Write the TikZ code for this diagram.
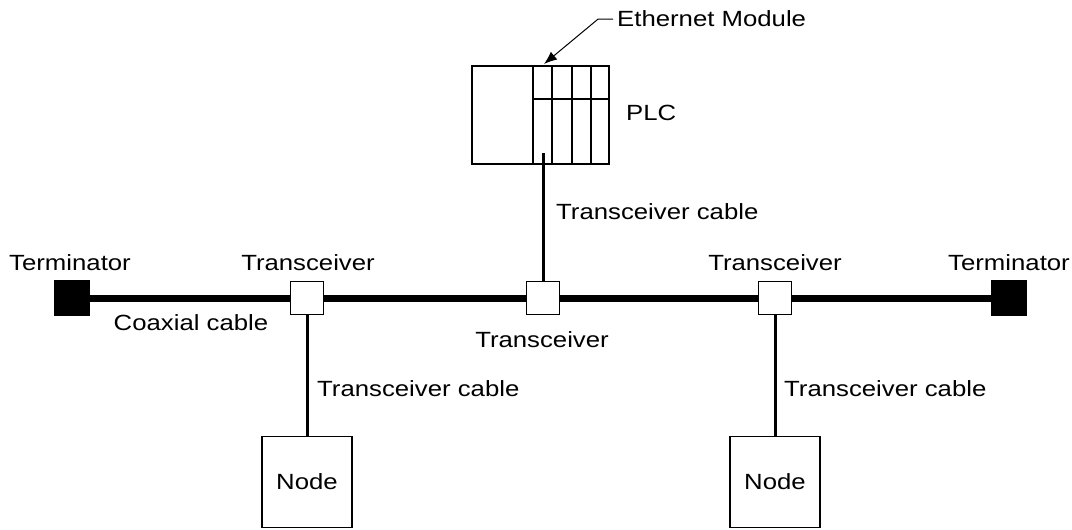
\documentclass[tikz,border=0pt]{standalone}
\usepackage{fontspec}
\setmainfont{Liberation Sans}[FakeStretch=1.17]
\usetikzlibrary{arrows.meta}

\begin{document}
\begin{tikzpicture}[x=1pt,y=-1pt,
  font=\fontsize{22}{26}\selectfont,
  lbl/.style={inner sep=0pt},
  term/.style={draw,fill=black,minimum width=35pt,minimum height=35pt,inner sep=0pt},
  trx/.style={draw,fill=white,line width=1.5pt,minimum width=33pt,minimum height=33pt,inner sep=0pt},
  box/.style={draw,line width=1.5pt,inner sep=0pt},
  coax/.style={line width=7pt},
  cable/.style={line width=3pt}]
            \useasboundingbox (0,0) rectangle (1072,530);

            % bus
            \node[term] (termL) at (72,298) {};
            \node[term] (termR) at (1009,298) {};
            \node[trx] (trxL) at (307,298) {};
            \node[trx] (trxM) at (543,298) {};
            \node[trx] (trxR) at (775,298) {};
            \draw[coax] (termL.east) -- (trxL.west);
            \draw[coax] (trxL.east) -- (trxM.west);
            \draw[coax] (trxM.east) -- (trxR.west);
            \draw[coax] (trxR.east) -- (termR.west);

            % PLC with ethernet module
            \node[box, minimum width=137pt, minimum height=98pt] (plc) at (540.5,115) {};
            \foreach \x in {533,552,572,591}
                \draw[line width=1.5pt] (\x,66) -- (\x,164);
            \draw[line width=1.5pt] (533,99) -- (609,99);
            \coordinate (plcport) at (543,153);
            \coordinate (ethport) at (544,64);

            % nodes
            \node[box, minimum width=90pt, minimum height=91pt] (nodeL) at (307,482) {Node};
            \node[box, minimum width=90pt, minimum height=91pt] (nodeR) at (775,482) {Node};
            \draw[cable] (trxL.south) -- (nodeL.north);
            \draw[cable] (trxR.south) -- (nodeR.north);
            \draw[cable] (trxM.north) -- (plcport);

            % labels
            \node[lbl, anchor=base] at (70,270) {Terminator};
            \node[lbl, anchor=base] at (1009,270) {Terminator};
            \node[lbl, anchor=base] at (308,270) {Transceiver};
            \node[lbl, anchor=base] at (775,270) {Transceiver};
            \node[lbl, anchor=base] at (542,347) {Transceiver};
            \node[lbl, anchor=base] at (191,330) {Coaxial cable};
            \node[lbl, anchor=base west] at (556,219) {Transceiver cable};
            \node[lbl, anchor=base west] at (317,396) {Transceiver cable};
            \node[lbl, anchor=base west] at (784,396) {Transceiver cable};
            \node[lbl, anchor=base west] at (626,120) {PLC};
            \node[lbl, anchor=base west] (ethlbl) at (617,27) {Ethernet Module};
            \draw[line width=1pt, -{Latex[length=13pt,width=10pt]}] (ethlbl.west) ++(-4,0) -- ++(-15,0) -- (ethport);
        \end{tikzpicture}
\end{document}
